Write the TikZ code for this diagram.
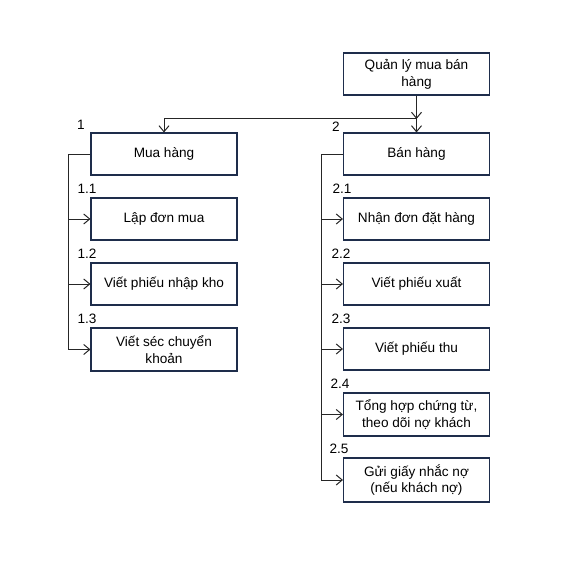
\documentclass[tikz,border=0pt]{standalone}
\usepackage{fontspec}
\setmainfont{Liberation Sans}
\usetikzlibrary{arrows.meta}
\definecolor{boxline}{RGB}{30,45,75}
\tikzset{
  box/.style={draw=boxline, line width=0.8pt, minimum width=109.5pt, minimum height=31.5pt, inner sep=0pt, align=center, font=\fontsize{10.2}{12.6}\selectfont},
  conn/.style={draw=black!85, line width=0.75pt},
  arr/.style={conn, -{Straight Barb[length=4.5pt,width=7.5pt,line width=0.75pt]}},
  num/.style={font=\fontsize{10.2}{12}\selectfont, inner sep=0pt}
}
\begin{document}
\begin{tikzpicture}[x=0.75pt,y=-0.75pt]
\useasboundingbox (0,0) rectangle (562,563);
% top
\node[box] (root) at (416.5,74) {Quản lý mua bán\\hàng};
\node[box] (mua) at (164,154) {Mua hàng};
\node[box] (ban) at (416.5,154) {Bán hàng};
\coordinate (j) at (416.5,119);
\coordinate (jl) at (164,119);
\draw[arr] (root.south) -- (j);
\draw[arr] (j) -- (ban.north);
\draw[arr] (j) -- (jl) -- (mua.north);
\node[num] (n1) at (81,125) {1};
\node[num] (n2) at (336,127) {2};
% left children
\node[box] (l1) at (164,219) {Lập đơn mua};
\node[box] (l2) at (164,284) {Viết phiếu nhập kho};
\node[box, minimum height=32.25pt] (l3) at (164,349.5) {Viết séc chuyển\\khoản};
\coordinate (lb) at (68.5,154);
\draw[conn] (mua.west) -- (lb);
\draw[arr] (lb) |- (l1.west);
\draw[arr] (lb) |- (l2.west);
\draw[arr] (lb) |- (l3.west);
\node[num] (n11) at (87,189) {1.1};
\node[num] (n12) at (87,254) {1.2};
\node[num] (n13) at (87,319) {1.3};
% right children
\node[box] (r1) at (416.5,219) {Nhận đơn đặt hàng};
\node[box] (r2) at (416.5,284) {Viết phiếu xuất};
\node[box] (r3) at (416.5,349) {Viết phiếu thu};
\node[box, minimum height=32.25pt] (r4) at (416.5,414.5) {Tổng hợp chứng từ,\\theo dõi nợ khách};
\node[box, minimum height=33pt] (r5) at (416.5,480) {Gửi giấy nhắc nợ\\(nếu khách nợ)};
\coordinate (rb) at (321.5,154);
\draw[conn] (ban.west) -- (rb);
\draw[arr] (rb) |- (r1.west);
\draw[arr] (rb) |- (r2.west);
\draw[arr] (rb) |- (r3.west);
\draw[arr] (rb) |- (r4.west);
\draw[arr] (rb) |- (r5.west);
\node[num] (n21) at (342,189) {2.1};
\node[num] (n22) at (341,254) {2.2};
\node[num] (n23) at (341,319) {2.3};
\node[num] (n24) at (340,384) {2.4};
\node[num] (n25) at (339,449) {2.5};
\end{tikzpicture}
\end{document}
